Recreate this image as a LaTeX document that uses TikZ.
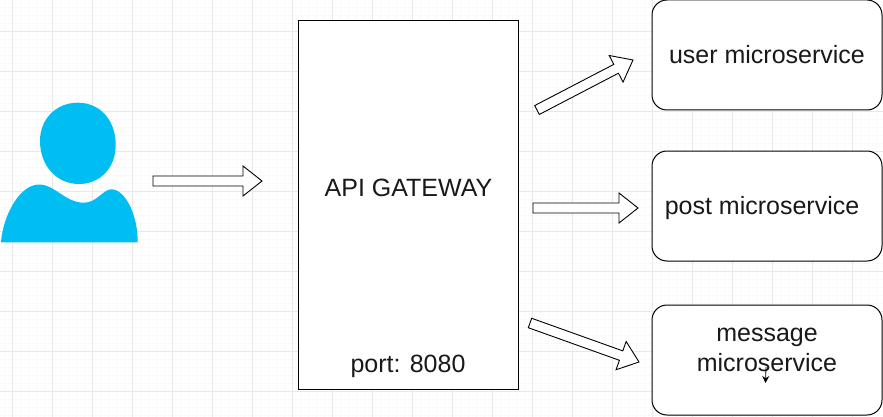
\documentclass[tikz,border=0pt]{standalone}
\usepackage{fontspec}
\setmainfont{Liberation Sans}
\usetikzlibrary{positioning, calc, arrows.meta}
\definecolor{personblue}{HTML}{00BEF2}
\definecolor{gridmajor}{HTML}{E8E8E8}
\definecolor{gridminor}{HTML}{F9F9F9}
\tikzstyle{gateway} = [rectangle, minimum width=220.5pt, minimum height=369pt, inner sep=0pt, draw=black, fill=white, line width=0.8pt]
\tikzstyle{service} = [rectangle, rounded corners=15pt, minimum width=230pt, minimum height=110pt, inner sep=0pt, draw=black, fill=white, line width=1pt]
\tikzstyle{caption} = [inner sep=0pt, align=center, font=\fontsize{25}{29.5}\selectfont, text=black!90]
\tikzstyle{blockarrow} = [draw=black, fill=white, line width=0.9pt, to path={
  let \p1=(\tikztostart), \p2=(\tikztotarget), \n1={atan2(\y2-\y1,\x2-\x1)}, \n2={veclen(\x2-\x1,\y2-\y1)} in
  ([shift={(\p1)},rotate=\n1]0pt,5pt) -- ([shift={(\p1)},rotate=\n1]\n2-19pt,5pt) -- ([shift={(\p1)},rotate=\n1]\n2-19pt,15pt)
  -- (\tikztotarget) -- ([shift={(\p1)},rotate=\n1]\n2-19pt,-15pt) -- ([shift={(\p1)},rotate=\n1]\n2-19pt,-5pt) -- ([shift={(\p1)},rotate=\n1]0pt,-5pt) -- cycle}]

\begin{document}
\begin{tikzpicture}[x=1pt, y=-1pt, node distance=151pt]
\useasboundingbox (0,0) rectangle (883,417);
% grid
\begin{scope}[shift={(12.5,31.5)}]
\draw [gridminor, line width=0.6pt, step=8pt] (-13,-32) grid (871,386);
\draw [gridmajor, line width=0.8pt, step=40pt] (-13,-32) grid (871,386);
\end{scope}

% person
\fill [personblue] (77.8,102.7) .. controls (100,102.7) and (115.7,120) .. (115.7,145) .. controls (115.7,168) and (100,184) .. (79,184) .. controls (56,184) and (40,165) .. (40,141) .. controls (40,119) and (56,102.7) .. (77.8,102.7) -- cycle;
\fill [personblue] (1,242.3) .. controls (3,215) and (20,184.5) .. (39,184.5) .. controls (55,184.5) and (65,202.7) .. (84,202.7) .. controls (97,202.7) and (103,189.3) .. (111.5,189.3) .. controls (125,189.3) and (138,215) .. (137.7,242.3) -- cycle;

\node (gateway) [gateway] at (408.6,205.3) {};
\node (userbox) [service] at (767,55) {};
\node (postbox) [service, below of=userbox] {};
\node (messagebox) [service, below of=postbox, yshift=-3pt] {};

\node (gatewaytext) [caption] at (408.5,188) {API GATEWAY};
\node (porttext) [caption] at (408,366) {port: 8080};
\node (usertext) [caption] at (767,55) {user microservice};
\node (posttext) [caption] at (762,208) {post microservice};
\node (messagetext) [caption] at (767,350) {message\\microservice};

\coordinate (personout) at (153,181);
\coordinate (gatewayin) at (262,181);
\coordinate (userfrom) at (537,110);
\coordinate (userin) at (633,60);
\coordinate (postfrom) at (533,208);
\coordinate (postin) at (638,208);
\coordinate (messagefrom) at (530,323);
\coordinate (messagein) at (639,362);

\draw [blockarrow] (personout) to (gatewayin);
\draw [blockarrow] (userfrom) to (userin);
\draw [blockarrow] (postfrom) to (postin);
\draw [blockarrow] (messagefrom) to (messagein);

% cursor
\coordinate (cursortop) at (766,367);
\coordinate (cursortip) at (765.5,383);
\draw [black, line width=0.8pt, -{Stealth[length=7pt,width=7pt]}] (cursortop) -- (cursortip);
\end{tikzpicture}
\end{document}
